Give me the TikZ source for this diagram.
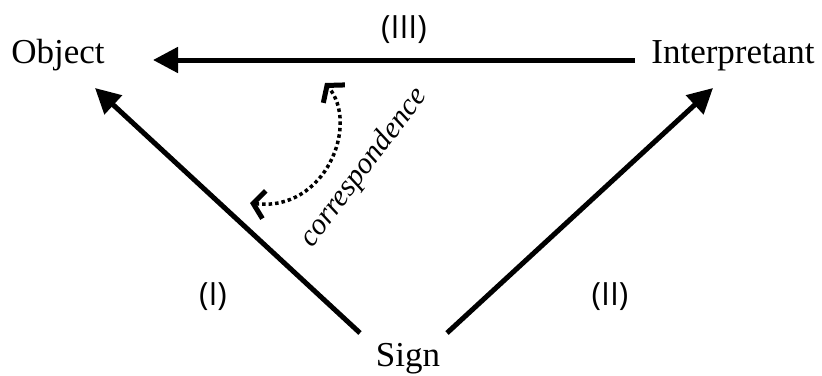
\documentclass[tikz,border=0pt]{standalone}
\usepackage{fontspec}
\setmainfont{Liberation Serif}
\newfontfamily\labelfont{Open Sans}
\usetikzlibrary{arrows.meta}
\begin{document}
\begin{tikzpicture}[x=1pt,y=-1pt,
  term/.style={font=\fontsize{35}{40}\selectfont, anchor=base, inner sep=0pt},
  roman/.style={font=\labelfont\fontsize{32}{36}\selectfont, inner sep=0pt},
  relation/.style={line width=5pt, -{Triangle[length=25pt,width=25pt]}},
  corr/.style={line width=3.5pt, dash pattern=on 3.5pt off 3pt,
    {Straight Barb[length=11pt,width=28pt,line width=5pt 0]}-{Straight Barb[length=11pt,width=28pt,line width=5pt 0]}}]
\useasboundingbox (0,0) rectangle (822,375);
% terms
\node[term] (object) at (58,63) {Object};
\node[term] (interp) at (733,63) {Interpretant};
\node[term] (sign) at (408,366) {Sign};
% arrow endpoints
\coordinate (iL) at (635,60);
\coordinate (oR) at (153,60);
\coordinate (sL) at (360,333);
\coordinate (oB) at (95,88);
\coordinate (sR) at (447,333);
\coordinate (iB) at (713,88);
\draw[relation] (iL) -- (oR);
\draw[relation] (sL) -- (oB);
\draw[relation] (sR) -- (iB);
% labels
\node[roman] (l3) at (404,30) {(III)};
\node[roman] (l1) at (213,297) {(I)};
\node[roman] (l2) at (610,297) {(II)};
% correspondence arc
\coordinate (cA) at (250,203);
\coordinate (cB) at (325,83);
\draw[corr] (cA) .. controls (325,212) and (360,125) .. (cB);
\node[font=\itshape\fontsize{30}{34}\selectfont, rotate=53, inner sep=0pt] (corrtext) at (364,168) {correspondence};
\end{tikzpicture}
\end{document}
